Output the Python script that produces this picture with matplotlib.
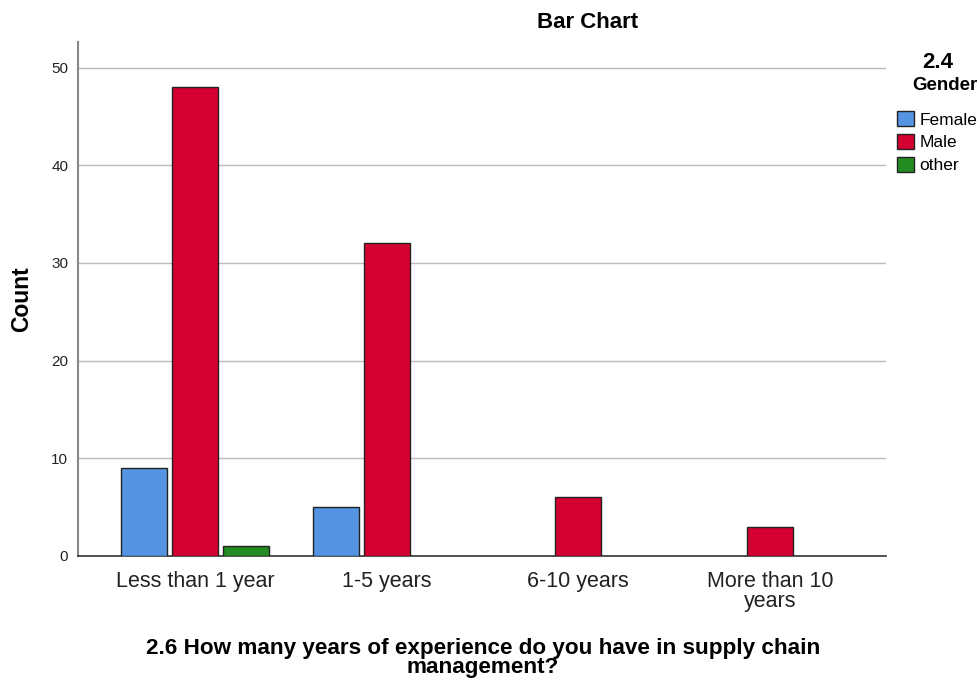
import numpy as np
import matplotlib
matplotlib.use("Agg")
import matplotlib.pyplot as plt
from matplotlib.patches import Patch

# data
categories = ["Less than 1 year", "1-5 years", "6-10 years", "More than 10\nyears"]
genders = ["Female", "Male", "other"]
female = [9, 5, 0, 0]
male = [48, 32, 6, 3]
other = [1, 0, 0, 0]
colors = ["#5594e2", "#d50032", "#228b22"]

plt.rcParams['font.family'] = ['Liberation Sans', 'DejaVu Sans']

fig = plt.figure(figsize=(9.77, 6.81), dpi=100)
ax = fig.add_axes([0.0798, 0.1836, 0.827, 0.7544])

x = np.arange(len(categories))
width = 0.24
pitch = 0.265
series = [female, male, other]
for i, (vals, col) in enumerate(zip(series, colors)):
    offs = (i - 1) * pitch
    for xi, v in zip(x, vals):
        if v == 0:
            continue  # SPSS leaves empty cells out
        ax.bar(xi + offs, v, width, color=col, edgecolor="#222222", linewidth=1.0, zorder=3)

ax.set_xlim(-0.61, 3.605)
ax.set_ylim(0, 52.6)
ax.set_yticks([0, 10, 20, 30, 40, 50])
ax.set_xticks(x)
ax.set_xticklabels(categories, fontsize=15.5, color="#222222", linespacing=0.95)
ax.tick_params(axis='y', labelsize=11, length=0, pad=7, colors="#222222")
ax.tick_params(axis='x', length=0, pad=11)
ax.yaxis.grid(True, color="#bbbbbb", linewidth=1.0, zorder=0)
for s in ["top", "right"]:
    ax.spines[s].set_visible(False)
ax.spines["left"].set_color("#888888")
ax.spines["left"].set_linewidth(1.5)
ax.spines["bottom"].set_color("#333333")
ax.spines["bottom"].set_linewidth(1.2)

ax.set_ylabel("Count", fontsize=16.5, fontweight="bold", labelpad=13)
fig.text(483 / 977, 1 - 658 / 681, "2.6 How many years of experience do you have in supply chain\nmanagement?",
         ha="center", va="center", fontsize=16.2, fontweight="bold", linespacing=0.82)
fig.text(588 / 977, 1 - 23 / 681, "Bar Chart", ha="center", va="center", fontsize=16, fontweight="bold")

# legend
fig.text(938 / 977, 1 - 62 / 681, "2.4", ha="center", va="center", fontsize=16, fontweight="bold")
fig.text(912 / 977, 1 - 85 / 681, "Gender", ha="left", va="center", fontsize=13.5, fontweight="bold")
handles = [Patch(facecolor=c, edgecolor="#222222", label=g) for g, c in zip(genders, colors)]
fig.legend(handles=handles, loc="upper left", bbox_to_anchor=(897 / 977, 1 - 111 / 681), frameon=False,
           fontsize=12.5, handlelength=0.98, handleheight=0.98, handletextpad=0.3, labelspacing=0.36,
           borderpad=0, borderaxespad=0)

fig.savefig("out.png", dpi=100)
